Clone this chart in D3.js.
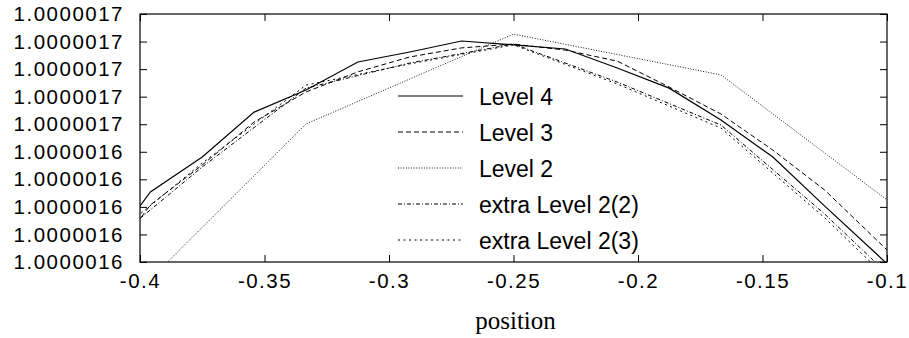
<!DOCTYPE html>
<html>
<head>
<meta charset="utf-8">
<script src="https://cdn.jsdelivr.net/npm/d3@7"></script>
<style>
  body { margin: 0; background: #fff; }
  svg { display: block; }
  .tick text { font-family: "Liberation Sans", Arial, sans-serif; fill: #000; }
</style>
</head>
<body>
<div id="chart"></div>
<script>
// positions along the cut
var xFine = [-0.41667, -0.39583, -0.375, -0.35417, -0.33333, -0.3125, -0.29167, -0.27083,
             -0.25, -0.22917, -0.20833, -0.1875, -0.16667, -0.14583, -0.125, -0.10417, -0.08333];
var xMid = [-0.41667, -0.375, -0.33333, -0.29167, -0.25, -0.20833, -0.16667, -0.125, -0.08333];
var xCoarse = [-0.41667, -0.33333, -0.25, -0.16667, -0.08333];

var level4 = [1.0000016000, 1.0000016254, 1.0000016381, 1.0000016544, 1.0000016624, 1.0000016726,
              1.0000016762, 1.0000016802, 1.0000016788, 1.0000016773, 1.0000016704, 1.0000016631,
              1.0000016515, 1.0000016381, 1.0000016203, 1.0000016029, 1.0000015851];
var level3 = [1.0000015953, 1.0000016207, 1.0000016352, 1.0000016508, 1.0000016617, 1.0000016690,
              1.0000016744, 1.0000016777, 1.0000016791, 1.0000016769, 1.0000016729, 1.0000016635,
              1.0000016537, 1.0000016406, 1.0000016261, 1.0000016080, 1.0000015898];
var level2 = [1.0000015750, 1.0000016501, 1.0000016827, 1.0000016679, 1.0000016112];
var extra22 = [1.0000016033, 1.0000016345, 1.0000016631, 1.0000016722, 1.0000016791,
               1.0000016653, 1.0000016497, 1.0000016174, 1.0000015815];
var extra23 = [1.0000016051, 1.0000016359, 1.0000016642, 1.0000016719, 1.0000016788,
               1.0000016646, 1.0000016486, 1.0000016160, 1.0000015797];

var xTicks = [-0.4, -0.35, -0.3, -0.25, -0.2, -0.15, -0.1];
var xTickLabels = ["-0.4", "-0.35", "-0.3", "-0.25", "-0.2", "-0.15", "-0.1"];
var yTicks = [1.00000160, 1.00000161, 1.00000162, 1.00000163, 1.00000164,
              1.00000165, 1.00000166, 1.00000167, 1.00000168, 1.00000169];
var yTickLabels = ["1.0000016", "1.0000016", "1.0000016", "1.0000016", "1.0000016",
                   "1.0000017", "1.0000017", "1.0000017", "1.0000017", "1.0000017"];

var seriesNames = ["Level 4", "Level 3", "Level 2", "extra Level 2(2)", "extra Level 2(3)"];

var W = 909, H = 338;
var margin = {top: 14, left: 140, right: 22, bottom: 76};
var pw = W - margin.left - margin.right;
var ph = H - margin.top - margin.bottom;

var svg = d3.select("#chart").append("svg")
    .attr("width", W).attr("height", H);

var x = d3.scaleLinear().domain([-0.4, -0.1]).range([0, pw]);
var y = d3.scaleLinear().domain([yTicks[0], yTicks[yTicks.length - 1]]).range([ph, 0]);

var g = svg.append("g")
    .attr("transform", "translate(" + margin.left + "," + margin.top + ")");

g.append("clipPath").attr("id", "clip")
  .append("rect").attr("width", pw).attr("height", ph);

// axes with inward ticks, gnuplot style (mirrored on top and right)
var tk = 7;
var xb = g.append("g").attr("transform", "translate(0," + ph + ")")
    .call(d3.axisBottom(x).tickValues(xTicks).tickSize(-tk).tickSizeOuter(0).tickPadding(8)
        .tickFormat(function(d, i) { return xTickLabels[i]; }));
var xt = g.append("g")
    .call(d3.axisTop(x).tickValues(xTicks).tickSize(-tk).tickSizeOuter(0).tickFormat(""));
var yl = g.append("g")
    .call(d3.axisLeft(y).tickValues(yTicks).tickSize(-tk).tickSizeOuter(0).tickPadding(16)
        .tickFormat(function(d, i) { return yTickLabels[i]; }));
var yr = g.append("g").attr("transform", "translate(" + pw + ",0)")
    .call(d3.axisRight(y).tickValues(yTicks).tickSize(-tk).tickSizeOuter(0).tickFormat(""));

[xb, xt, yl, yr].forEach(function(a) {
    a.select(".domain").remove();
    a.selectAll(".tick line").attr("stroke", "#000");
});
g.selectAll(".tick text")
    .style("font-size", "20.5px")
    .style("letter-spacing", "1.5px");
xb.selectAll(".tick text").attr("dy", "0.9em");

g.append("rect")
    .attr("width", pw).attr("height", ph)
    .attr("fill", "none").attr("stroke", "#000").attr("stroke-width", 1.2);

// series
var series = [
    {xs: xFine, ys: level4, dash: null, w: 1.2},
    {xs: xFine, ys: level3, dash: "5,3", w: 1},
    {xs: xCoarse, ys: level2, dash: "1,1.6", w: 0.9},
    {xs: xMid, ys: extra22, dash: "4,2,1,2", w: 1},
    {xs: xMid, ys: extra23, dash: "2,3.5", w: 1}
];

var line = d3.line()
    .x(function(d) { return x(d[0]); })
    .y(function(d) { return y(d[1]); });

var lines = g.append("g").attr("clip-path", "url(#clip)");
series.forEach(function(s) {
    var pts = s.xs.map(function(v, i) { return [v, s.ys[i]]; });
    lines.append("path")
        .datum(pts)
        .attr("d", line)
        .attr("fill", "none")
        .attr("stroke", "#000")
        .attr("stroke-width", s.w)
        .attr("stroke-dasharray", s.dash);
});

// legend
var leg = svg.append("g").attr("transform", "translate(398,96)");
series.forEach(function(s, i) {
    var row = leg.append("g").attr("transform", "translate(0," + (i * 36) + ")");
    row.append("line")
        .attr("x1", 0).attr("x2", 65)
        .attr("stroke", "#000")
        .attr("stroke-width", s.w)
        .attr("stroke-dasharray", s.dash);
    row.append("text")
        .attr("x", 81).attr("y", 8.5)
        .style("font-family", "'Liberation Sans', Arial, sans-serif")
        .style("font-size", "23px")
        .text(seriesNames[i]);
});

// axis title
svg.append("text")
    .attr("x", margin.left + pw / 2 + 2).attr("y", 329)
    .attr("text-anchor", "middle")
    .style("font-family", "'Liberation Serif', 'DejaVu Serif', serif")
    .style("font-size", "25px")
    .text("position");
</script>
</body>
</html>
